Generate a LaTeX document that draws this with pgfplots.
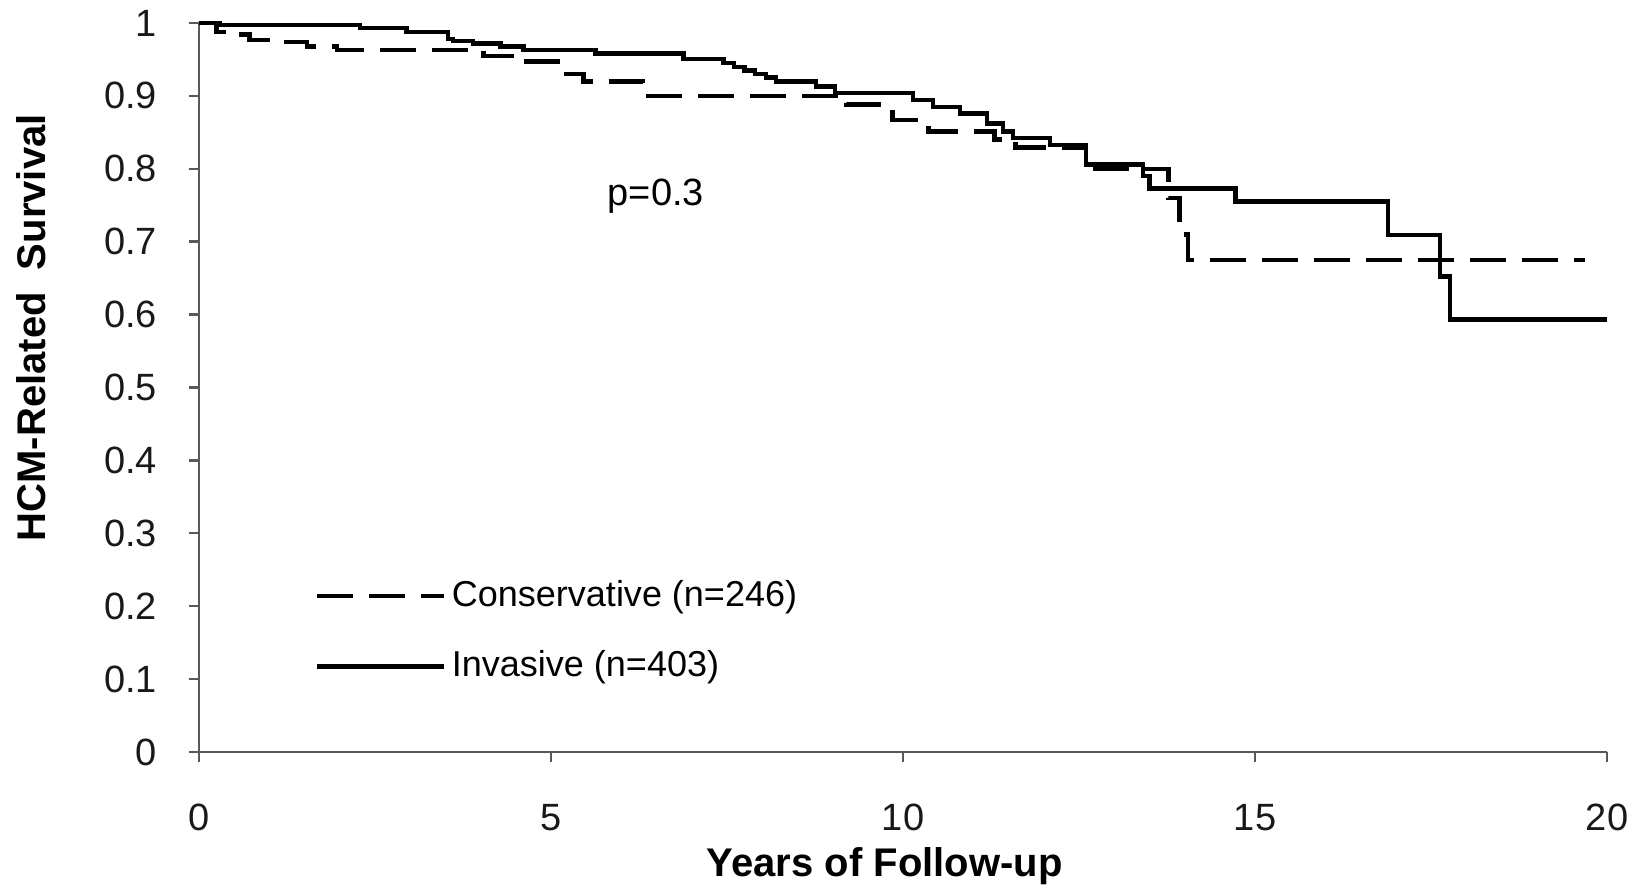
\documentclass[border=0pt]{standalone}
\usepackage{fontspec}
\setmainfont{Liberation Sans}
\usepackage{pgfplots}
\pgfplotsset{compat=1.18}

% Kaplan-Meier steps: (time in years, survival)
\pgfplotstableread{
x y
0     1.000
0.25  0.988
0.54  0.984
0.72  0.977
1.20  0.974
1.53  0.968
1.96  0.963
4.04  0.955
4.55  0.947
5.10  0.930
5.46  0.920
6.31  0.900
9.20  0.888
9.85  0.867
10.36 0.851
11.30 0.840
11.60 0.829
12.60 0.800
13.77 0.760
13.93 0.710
14.05 0.675
19.69 0.675
}\conservative

\pgfplotstableread{
x y
0     1.000
0.30  0.997
2.29  0.993
2.95  0.988
3.54  0.978
3.61  0.975
3.89  0.972
4.28  0.968
4.61  0.963
5.63  0.958
6.88  0.951
7.45  0.945
7.60  0.940
7.75  0.935
7.90  0.930
8.05  0.925
8.20  0.920
8.76  0.913
9.03  0.904
10.14 0.894
10.43 0.885
10.81 0.876
11.19 0.862
11.42 0.851
11.56 0.842
12.09 0.833
12.60 0.806
13.41 0.790
13.50 0.773
14.72 0.755
16.89 0.709
17.63 0.652
17.77 0.593
20.00 0.593
}\invasive

\begin{document}
\begin{tikzpicture}
\begin{axis}[
    scale only axis,
    width=352pt, height=182.25pt,
    xmin=0, xmax=20, ymin=0, ymax=1,
    xtick={0,5,10,15,20},
    ytick={0,0.1,0.2,0.3,0.4,0.5,0.6,0.7,0.8,0.9,1},
    yticklabels={0,0.1,0.2,0.3,0.4,0.5,0.6,0.7,0.8,0.9,1},
    axis lines=left,
    axis line style={-, draw=black!65, line width=0.7pt},
    tick style={draw=black!65, line width=0.6pt},
    tick align=outside,
    major tick length=2.5pt,
    clip=false,
    /pgf/number format/assume math mode=true,
    ticklabel style={font=\fontsize{9.5}{11}\selectfont, text=black!90},
    xticklabel style={yshift=-7pt},
    yticklabel style={xshift=-4.5pt},
    every axis x label/.style={at={(axis description cs:0.487,-0.156)}, anchor=center},
    every axis y label/.style={at={(axis description cs:-0.119,0.582)}, rotate=90, anchor=center},
    xlabel={\fontsize{10}{12}\selectfont\bfseries Years of Follow-up},
    ylabel={\fontsize{10}{12}\selectfont\bfseries HCM-Related\ \ Survival},
    legend style={draw=none, fill=none, at={(axis cs:1.63,0.245)}, anchor=north west,
        font=\fontsize{9}{11}\selectfont, row sep=6.5pt, inner sep=0pt,
        nodes={inner sep=1.5pt}},
    legend cell align=left,
    legend image code/.code={\draw[#1] (0pt,0pt) -- (31.75pt,0pt);},
]
\addplot[const plot, black, line width=1.1pt, dash pattern=on 9pt off 4pt] table[x=x, y=y] {\conservative};
\addlegendentry{Conservative (n=246)}
\addplot[const plot, black, line width=1.1pt] table[x=x, y=y] {\invasive};
\addlegendentry{Invasive (n=403)}
\node[font=\fontsize{9.5}{11}\selectfont] at (axis cs:6.49,0.763) {p=0.3};
\end{axis}
\pgfresetboundingbox
\useasboundingbox (-49.75pt,-33.75pt) rectangle (361.25pt,188pt);
\end{tikzpicture}
\end{document}
